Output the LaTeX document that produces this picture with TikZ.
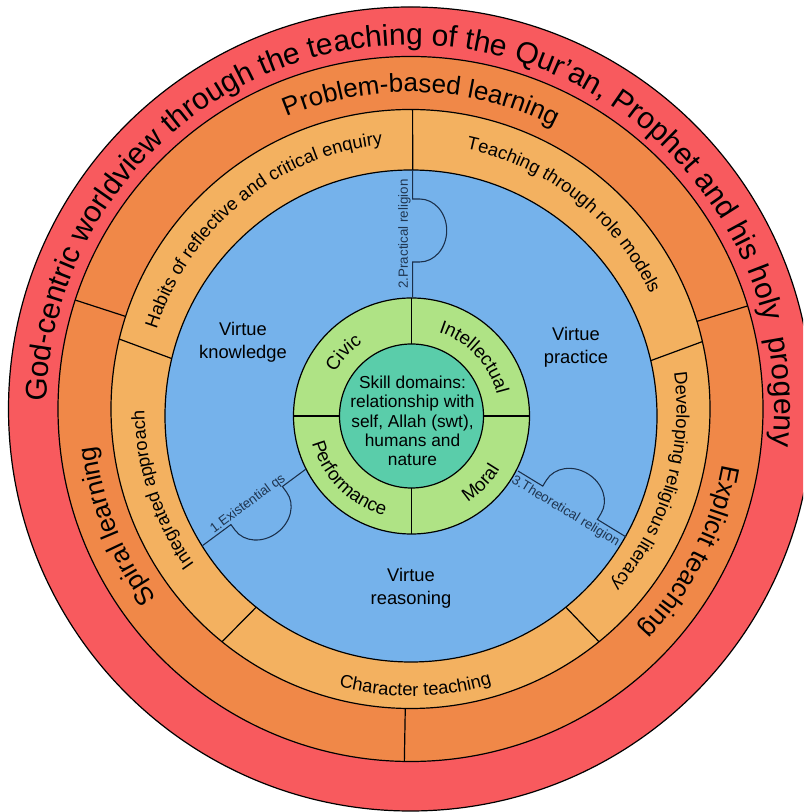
\documentclass[tikz,border=0pt]{standalone}
\usepackage{fontspec}
\setmainfont{Liberation Sans}
\usetikzlibrary{decorations.text}
\definecolor{ringred}{HTML}{F85A5E}
\definecolor{ringorange}{HTML}{F08848}
\definecolor{ringlight}{HTML}{F3B160}
\definecolor{ringblue}{HTML}{75B2EB}
\definecolor{ringgreen}{HTML}{AFE385}
\definecolor{ringteal}{HTML}{5ACDAA}
\definecolor{tabcol}{HTML}{1A2F4A}
\definecolor{labelcol}{HTML}{1F3550}
\newcommand\fRed{\fontsize{22.5}{27}\selectfont}
\newcommand\fOrange{\fontsize{19.5}{23}\selectfont}
\newcommand\fLight{\fontsize{13.75}{16}\selectfont}
\newcommand\fGreen{\fontsize{14}{16}\selectfont}
\newcommand\fVirtue{\fontsize{13.75}{17.25}\selectfont}
\newcommand\fCore{\fontsize{13}{14.4}\selectfont}
\newcommand\fLabel{\fontsize{10}{12}\selectfont}
\begin{document}
\begin{tikzpicture}[x=0.75pt,y=0.75pt,
  ringedge/.style={draw=black, line width=0.9pt},
  divline/.style={draw=black, line width=0.9pt},
  tabpath/.style={draw=tabcol, line width=0.8pt},
  smalllbl/.style={font=\fLabel, text=labelcol, inner sep=0pt},
  virtuetxt/.style={font=\fVirtue, align=center, inner sep=0pt},
]
\useasboundingbox (0,0) rectangle (803,812);
\clip (0,0) rectangle (803,812);
\coordinate (O) at (410.5,403);
\coordinate (Cb) at (411,396);
\coordinate (C) at (411.5,396);
% rings
\path[ringedge, fill=ringred] (O) circle[radius=402];
\path[ringedge, fill=ringorange] (O) circle[radius=352.5];
\path[ringedge, fill=ringlight] (O) circle[radius=299.5];
\path[ringedge, fill=ringblue] (Cb) circle[radius=246];
% dividers
\foreach \a in {162,17,-91}
  \draw[divline] ([shift={(O)}]\a:299.5) -- ([shift={(O)}]\a:352.5);
\foreach \a in {89.6,166.5,13,-51,231}
  \draw[divline] ([shift={(Cb)}]\a:246) -- ([shift={(O)}]\a:299.5);
% inner circles
\path[ringedge, fill=ringgreen] (C) circle[radius=118];
\path[ringedge, fill=ringteal] (C) circle[radius=72];
\foreach \a in {0,90,180,270}
  \draw[divline] ([shift={(C)}]\a:72) -- ([shift={(C)}]\a:118);
% tab lines
\begin{scope}[shift={(202,266)}, rotate=36.5]
\draw[tabpath] (0,0) -- (36,0) -- (36,-7) arc[start angle=180, end angle=360, x radius=32, y radius=27] -- (100,0) -- (129.4,0);
\end{scope}
\begin{scope}[shift={(412.7,642)}, rotate=-90]
\draw[tabpath] (0,0) -- (29,0) -- (29,7) arc[start angle=180, end angle=0, x radius=31.5, y radius=27] -- (92,0) -- (127,0);
\end{scope}
\begin{scope}[shift={(518,341)}, rotate=-31.4]
\draw[tabpath] (0,0) -- (29,0) -- (29,7) arc[start angle=180, end angle=0, x radius=32, y radius=27] -- (93,0) -- (126.6,0);
\end{scope}
\node[smalllbl, rotate=90] (lbl2) at (404.5,578) {2.Practical religion};
\node[smalllbl, rotate=36.5] (lbl1) at (248,308) {1.Existential qs};
\node[smalllbl, rotate=-31.4] (lbl3) at (565.5,300.5) {3.Theoretical religion};
% ring texts
\path[decorate, decoration={text along path, text align=center, text={|\fRed|God-centric worldview through the teaching of the Qur’an, Prophet and his holy {\ }progeny}}] ([shift={(O)}]186.5:364) arc[start angle=186.5, end angle=-13.5, radius=364];
\path[decorate, decoration={text along path, text align=center, text={|\fOrange|Problem-based learning}}] ([shift={(O)}]128:317) arc[start angle=128, end angle=48, radius=317];
\path[decorate, decoration={text along path, text align=center, text={|\fOrange|Spiral learning}}] ([shift={(O)}]231.7:317) arc[start angle=231.7, end angle=171.7, radius=317];
\path[decorate, decoration={text along path, text align=center, text={|\fOrange|Explicit teaching}}] ([shift={(O)}]3:317) arc[start angle=3, end angle=-57, radius=317];
\path[decorate, decoration={text along path, text align=center, text={|\fLight|Habits of reflective and critical enquiry}}] ([shift={(O)}]169.3:266) arc[start angle=169.3, end angle=89.3, radius=266];
\path[decorate, decoration={text along path, text align=center, text={|\fLight|Teaching through role models}}] ([shift={(O)}]86.8:266) arc[start angle=86.8, end angle=16.8, radius=266];
\path[decorate, decoration={text along path, text align=center, text={|\fLight|Developing religious literacy}}] ([shift={(O)}]18.4:266) arc[start angle=18.4, end angle=-51.6, radius=266];
\path[decorate, decoration={text along path, text align=center, text={|\fLight|Integrated approach}}] ([shift={(O)}]228:266) arc[start angle=228, end angle=168, radius=266];
\path[decorate, decoration={text along path, text align=center, text={|\fLight|Character teaching}}] ([shift={(O)}]241:287) arc[start angle=241, end angle=301, radius=287];
\path[decorate, decoration={text along path, text align=center, text={|\fGreen|Civic}}] ([shift={(C)}]167:88) arc[start angle=167, end angle=107, radius=88];
\path[decorate, decoration={text along path, text align=center, text={|\fGreen|Intellectual}}] ([shift={(C)}]83:88) arc[start angle=83, end angle=3, radius=88];
\path[decorate, decoration={text along path, text align=center, text={|\fGreen|Performance}}] ([shift={(C)}]180:103) arc[start angle=180, end angle=270, radius=103];
\path[decorate, decoration={text along path, text align=center, text={|\fGreen|Moral}}] ([shift={(C)}]-74:103) arc[start angle=-74, end angle=-14, radius=103];
% plain texts
\node[virtuetxt] (vk) at (243,470) {Virtue\\knowledge};
\node[virtuetxt] (vp) at (576,465) {Virtue\\practice};
\node[virtuetxt] (vr) at (411,224) {Virtue\\reasoning};
\node[font=\fCore, align=center, inner sep=0pt] (core) at (412.5,391) {Skill domains:\\relationship with\\self, Allah (swt),\\humans and\\nature};
\end{tikzpicture}
\end{document}
